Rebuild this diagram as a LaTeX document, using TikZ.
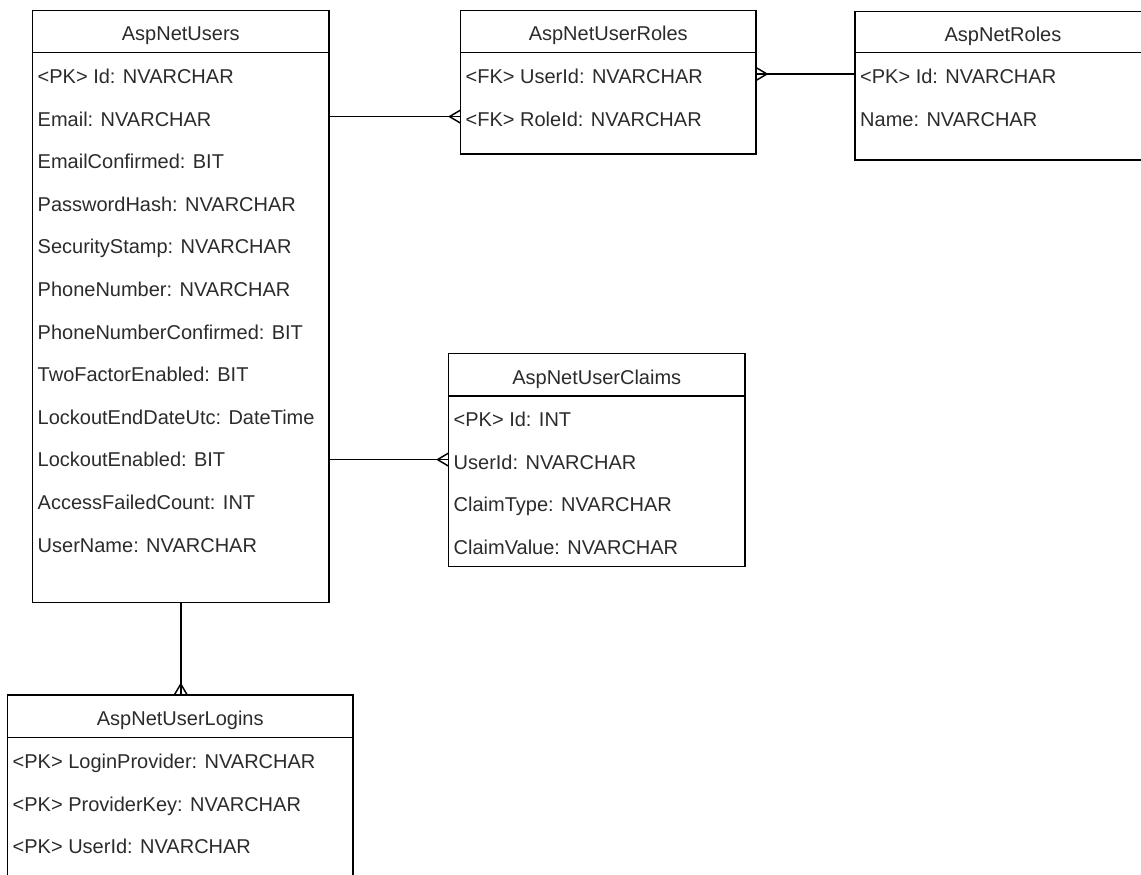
\documentclass[tikz,border=0pt]{standalone}
\usepackage{fontspec}
\setmainfont{Liberation Sans}
\usetikzlibrary{calc}
\definecolor{txt}{HTML}{2B2B2B}
\tikzset{
  tbl/.style={draw=black, line width=1.2pt, anchor=north west, inner sep=0pt, outer sep=0pt},
  hdr/.style={anchor=north west, inner sep=0pt, outer sep=0pt, text=txt,
    text height=14.1pt, text depth=0pt, font=\fontsize{15}{18}\selectfont},
  rowtxt/.style={anchor=north west, inner xsep=3.9pt, inner ysep=0pt, outer sep=0pt,
    minimum height=31.95pt, text height=14.25pt, text depth=0pt, text=txt,
    font=\fontsize{15}{18}\selectfont},
  sep/.style={draw=black, line width=1.2pt},
  conn/.style={draw=black, line width=1.2pt},
  toes/.style={draw=black, line width=1.1pt},
}
\begin{document}
\begin{tikzpicture}[x=0.75pt, y=-0.75pt]
\useasboundingbox (0,0) rectangle (1141,874);
\clip (0,0) rectangle (1141,874);

% ---------- AspNetUsers ----------
\node[tbl, minimum width=222.4pt, minimum height=444pt] (users) at (32.5,10.5) {};
\node[hdr, minimum width=222.4pt, minimum height=31.65pt] (uh) at (users.north west) {AspNetUsers};
\draw[sep] (uh.south west) -- (uh.south east);
\node[rowtxt] (u0) at (uh.south west) {<PK> Id: NVARCHAR};
\node[rowtxt] (u1) at (u0.south west) {Email: NVARCHAR};
\node[rowtxt] (u2) at (u1.south west) {EmailConfirmed: BIT};
\node[rowtxt] (u3) at (u2.south west) {PasswordHash: NVARCHAR};
\node[rowtxt] (u4) at (u3.south west) {SecurityStamp: NVARCHAR};
\node[rowtxt] (u5) at (u4.south west) {PhoneNumber: NVARCHAR};
\node[rowtxt] (u6) at (u5.south west) {PhoneNumberConfirmed: BIT};
\node[rowtxt] (u7) at (u6.south west) {TwoFactorEnabled: BIT};
\node[rowtxt] (u8) at (u7.south west) {LockoutEndDateUtc: DateTime};
\node[rowtxt] (u9) at (u8.south west) {LockoutEnabled: BIT};
\node[rowtxt] (u10) at (u9.south west) {AccessFailedCount: INT};
\node[rowtxt] (u11) at (u10.south west) {UserName: NVARCHAR};

% ---------- AspNetUserRoles ----------
\node[tbl, minimum width=221.6pt, minimum height=107.6pt] (userroles) at (460.5,10.5) {};
\node[hdr, minimum width=221.6pt, minimum height=31.65pt] (urh) at (userroles.north west) {AspNetUserRoles};
\draw[sep] (urh.south west) -- (urh.south east);
\node[rowtxt] (ur0) at (urh.south west) {<FK> UserId: NVARCHAR};
\node[rowtxt] (ur1) at (ur0.south west) {<FK> RoleId: NVARCHAR};

% ---------- AspNetRoles ----------
\node[tbl, minimum width=222pt, minimum height=111.4pt] (roles) at (855,11.5) {};
\node[hdr, minimum width=222pt, minimum height=30.9pt] (rh) at (roles.north west) {AspNetRoles};
\draw[sep] (rh.south west) -- (rh.south east);
\node[rowtxt] (r0) at (rh.south west) {<PK> Id: NVARCHAR};
\node[rowtxt] (r1) at (r0.south west) {Name: NVARCHAR};

% ---------- AspNetUserClaims ----------
\node[tbl, minimum width=222.4pt, minimum height=159.75pt] (claims) at (448.5,353.5) {};
\node[hdr, minimum width=222.4pt, minimum height=31.65pt] (ch) at (claims.north west) {AspNetUserClaims};
\draw[sep] (ch.south west) -- (ch.south east);
\node[rowtxt] (c0) at (ch.south west) {<PK> Id: INT};
\node[rowtxt] (c1) at (c0.south west) {UserId: NVARCHAR};
\node[rowtxt] (c2) at (c1.south west) {ClaimType: NVARCHAR};
\node[rowtxt] (c3) at (c2.south west) {ClaimValue: NVARCHAR};

% ---------- AspNetUserLogins ----------
\node[tbl, minimum width=259.1pt, minimum height=187.5pt] (logins) at (7.5,695) {};
\node[hdr, minimum width=259.1pt, minimum height=32pt] (lh) at (logins.north west) {AspNetUserLogins};
\draw[sep] (lh.south west) -- (lh.south east);
\node[rowtxt] (l0) at (lh.south west) {<PK> LoginProvider: NVARCHAR};
\node[rowtxt] (l1) at (l0.south west) {<PK> ProviderKey: NVARCHAR};
\node[rowtxt] (l2) at (l1.south west) {<PK> UserId: NVARCHAR};

% ---------- connectors ----------
% Users -> UserRoles
\coordinate (e1) at (userroles.west |- ur1);
\draw[conn] (users.east |- ur1) -- (e1);
\draw[toes] ($(e1)+(0,-6.5)$) -- ($(e1)+(-11,0)$) -- ($(e1)+(0,6.5)$);

% Roles -> UserRoles
\coordinate (e2) at (userroles.east |- r0);
\draw[conn] (roles.west |- r0) -- (e2);
\draw[toes] ($(e2)+(0,-6.5)$) -- ($(e2)+(11,0)$) -- ($(e2)+(0,6.5)$);

% Users -> Claims
\coordinate (e3) at (claims.west |- c1);
\draw[conn] (users.east |- c1) -- (e3);
\draw[toes] ($(e3)+(0,-6.5)$) -- ($(e3)+(-11,0)$) -- ($(e3)+(0,6.5)$);

% Users -> Logins
\coordinate (e4) at (users.south |- logins.north);
\draw[conn] (users.south) -- (e4);
\draw[toes] ($(e4)+(-6.5,0)$) -- ($(e4)+(0,-11)$) -- ($(e4)+(6.5,0)$);
\end{tikzpicture}
\end{document}
